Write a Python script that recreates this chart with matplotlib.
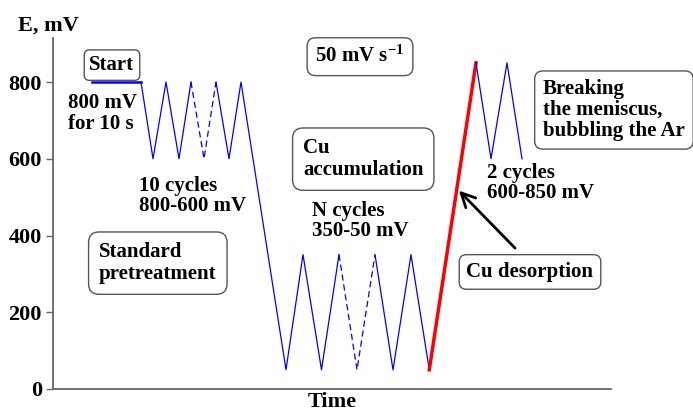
import matplotlib
matplotlib.use('Agg')
import matplotlib.pyplot as plt

plt.rcParams['font.family'] = ['Liberation Serif', 'DejaVu Serif']
plt.rcParams['font.weight'] = 'bold'
plt.rcParams['mathtext.fontset'] = 'custom'
plt.rcParams['mathtext.rm'] = 'Liberation Serif:bold'
plt.rcParams['mathtext.bf'] = 'Liberation Serif:bold'
plt.rcParams['mathtext.default'] = 'rm'

# potential program (time in arbitrary units, E in mV)
hold_t = [39, 88]
hold_E = [800, 800]

pre_t = [88, 100, 113, 126, 138]
pre_E = [800, 600, 800, 600, 800]
pre_dash_t = [138, 151, 163]
pre_dash_E = [800, 600, 800]
pre2_t = [163, 176, 188, 233, 250, 268.5, 286]
pre2_E = [800, 600, 800, 50, 350, 50, 350]

acc_dash_t = [286, 304, 322]
acc_dash_E = [350, 50, 350]
acc2_t = [322, 340, 358, 376.3]
acc2_E = [350, 50, 350, 50]

des_t = [376.3, 423]
des_E = [50, 850]

fin_t = [423, 438, 454, 469]
fin_E = [850, 600, 850, 600]

yticks = [0, 200, 400, 600, 800]

fig = plt.figure(figsize=(6.93, 4.12), dpi=100)
ax = fig.add_axes([53/693, 1-389/412, (611-53)/693, (389-38)/412])

blue = '#0000ff'
ax.plot(hold_t, hold_E, color=blue, lw=1.8)
ax.plot(pre_t, pre_E, color=blue, lw=0.9)
ax.plot(pre_dash_t, pre_dash_E, color=blue, lw=0.9, linestyle=(0, (5, 3)))
ax.plot(pre2_t, pre2_E, color=blue, lw=0.9)
ax.plot(acc_dash_t, acc_dash_E, color=blue, lw=0.9, linestyle=(0, (5, 3)))
ax.plot(acc2_t, acc2_E, color=blue, lw=0.9)
ax.plot(des_t, des_E, color='red', lw=2.5)
ax.plot(fin_t, fin_E, color=blue, lw=0.9)

ax.set_xlim(0, 558)
ax.set_ylim(0, 914.7)
ax.set_yticks(yticks)
ax.set_yticklabels([str(v) for v in yticks], fontsize=16, fontweight='bold')
ax.set_xticks([])
ax.tick_params(axis='y', length=5, width=1, color='#666666', pad=3)
for s in ['top', 'right']:
    ax.spines[s].set_visible(False)
for s in ['left', 'bottom']:
    ax.spines[s].set_color('#666666')
    ax.spines[s].set_linewidth(1.3)

ax.set_xlabel('Time', fontsize=16, fontweight='bold', labelpad=2)
fig.text(18/693, 1-26/412, 'E, mV', fontsize=16, fontweight='bold', va='center', ha='left')

box = lambda p: dict(boxstyle=f'round,pad={p}', fc='white', ec='#555555', lw=1)
fs = 15

ax.text(59, 844, 'Start', fontsize=fs, ha='center', va='center', bbox=box(0.25))
ax.text(15, 717, '800 mV\nfor 10 s', fontsize=fs, ha='left', va='center', linespacing=1.05)
ax.text(307, 866, r'50 mV s$^{-1}$', fontsize=fs, ha='center', va='center', bbox=box(0.4))
ax.text(250, 599, 'Cu\naccumulation', fontsize=fs, ha='left', va='center', linespacing=1.1, bbox=box(0.5))
ax.text(86, 503, '10 cycles\n800-600 mV', fontsize=fs, ha='left', va='center', linespacing=1.05)
ax.text(46, 328, 'Standard\npretreatment', fontsize=fs, ha='left', va='center', linespacing=1.1, bbox=box(0.5))
ax.text(259, 438, 'N cycles\n350-50 mV', fontsize=fs, ha='left', va='center', linespacing=1.05)
ax.text(490, 727, 'Breaking\nthe meniscus,\nbubbling the Ar', fontsize=fs, ha='left', va='center',
        linespacing=1.05, bbox=box(0.4))
ax.text(434, 537, '2 cycles\n600-850 mV', fontsize=fs, ha='left', va='center', linespacing=1.05)
ax.text(477, 305, 'Cu desorption', fontsize=fs, ha='center', va='center', bbox=box(0.35))
ax.annotate('', xy=(404, 522), xytext=(464, 362),
            arrowprops=dict(arrowstyle='->', color='black', lw=2, mutation_scale=25))

for t in ax.texts:
    t.set_clip_on(False)

fig.savefig('out.png', dpi=100)
